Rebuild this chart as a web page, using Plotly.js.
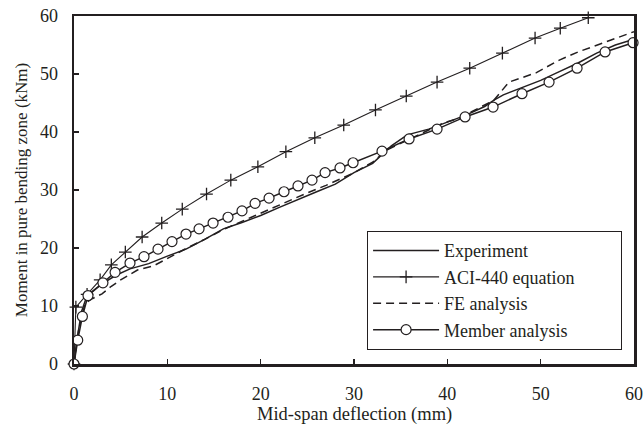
<!DOCTYPE html>
<html>
<head>
<meta charset="utf-8">
<script src="https://cdn.plot.ly/plotly-3.0.1.min.js"></script>
<style>html,body{margin:0;padding:0;background:#fff;}#chart{width:644px;height:428px;}</style>
</head>
<body>
<div id="chart"></div>
<script>
// Experiment
const expX = [0, 0.3, 0.8, 1.4, 3.0, 4.5, 6.0, 8.0, 10.0, 12.0, 14.0, 16.0, 18.0, 20.0, 22.0, 24.0, 26.0, 28.0, 30.0, 32.0, 34.0, 35.7, 38.0, 40.0, 42.0, 44.0, 45.0, 46.0, 48.0, 50.0, 52.0, 54.0, 56.0, 58.0, 60.0];
const expY = [0, 4.0, 9.0, 11.8, 13.8, 15.3, 16.4, 17.3, 18.6, 19.8, 21.5, 23.3, 24.4, 25.6, 27.0, 28.4, 29.7, 31.0, 33.0, 34.6, 37.6, 39.5, 40.5, 41.7, 42.9, 44.4, 45.5, 46.4, 47.6, 48.9, 50.4, 51.9, 53.6, 55.0, 56.0];
// ACI-440 equation
const aciX = [0, 0.2, 1.4, 2.8, 4.0, 5.5, 7.3, 9.4, 11.6, 14.2, 16.8, 19.7, 22.7, 25.8, 28.9, 32.3, 35.6, 38.9, 42.4, 45.9, 49.4, 52.1, 55.1];
const aciY = [0, 9.8, 12.0, 14.5, 17.1, 19.3, 21.9, 24.3, 26.7, 29.3, 31.7, 34.0, 36.6, 39.0, 41.2, 43.8, 46.2, 48.6, 51.0, 53.6, 56.2, 57.9, 59.7];
// FE analysis
const feX = [0, 0.5, 1.2, 2.0, 3.0, 4.0, 5.0, 6.8, 8.5, 10.0, 12.0, 14.0, 16.3, 19.0, 22.4, 25.0, 27.0, 29.8, 32.0, 33.5, 36.0, 39.5, 41.3, 43.0, 45.0, 46.6, 49.5, 52.0, 54.0, 56.6, 59.5, 60.0];
const feY = [0, 6.0, 10.5, 11.3, 12.1, 13.4, 14.5, 16.2, 16.9, 18.2, 19.9, 21.5, 23.4, 25.3, 27.7, 29.5, 30.8, 32.8, 34.8, 36.9, 38.8, 41.5, 42.4, 43.8, 45.5, 48.6, 50.2, 52.4, 53.8, 55.3, 57.1, 57.3];
// Member analysis
const memX = [0, 0.4, 0.9, 1.5, 3.1, 4.4, 6.0, 7.5, 9.0, 10.5, 12.0, 13.4, 14.9, 16.5, 18.0, 19.4, 20.9, 22.5, 24.0, 25.5, 26.9, 28.5, 29.9, 33.0, 35.9, 38.9, 41.9, 44.9, 48.0, 50.9, 53.9, 56.9, 59.9];
const memY = [0, 4.1, 8.2, 11.8, 14.0, 15.8, 17.4, 18.5, 19.8, 21.1, 22.4, 23.3, 24.3, 25.3, 26.4, 27.7, 28.6, 29.7, 30.7, 31.7, 33.0, 33.8, 34.7, 36.7, 38.8, 40.5, 42.6, 44.3, 46.6, 48.6, 51.0, 53.8, 55.4];

const xTicks = [0, 10, 20, 30, 40, 50, 60];
const yTicks = [0, 10, 20, 30, 40, 50, 60];
const seriesNames = ['Experiment', 'ACI-440 equation', 'FE analysis', 'Member analysis'];
const xTitle = 'Mid-span deflection (mm)';
const yTitle = 'Moment in pure bending zone (kNm)';

const FONT = 'Liberation Serif, Times New Roman, serif';
const INK = '#231f20';
const PAD = '\u00a0'.repeat(9);

const traces = [
  {x: expX, y: expY, name: seriesNames[0], mode: 'lines', cliponaxis: false,
   line: {color: INK, width: 1.5}},
  {x: aciX, y: aciY, name: seriesNames[1] + PAD, mode: 'lines+markers', cliponaxis: false,
   line: {color: INK, width: 1.1},
   marker: {symbol: 'cross-thin', size: 9, line: {color: INK, width: 1.3}}},
  {x: feX, y: feY, name: seriesNames[2], mode: 'lines', cliponaxis: false,
   line: {color: INK, width: 1.5, dash: '8px,5px'}},
  {x: memX, y: memY, name: seriesNames[3], mode: 'lines+markers', cliponaxis: false,
   line: {color: INK, width: 1.5},
   marker: {symbol: 'circle', size: 10, color: '#ffffff', line: {color: INK, width: 1.2}}}
];

const axisCommon = {
  showgrid: false, zeroline: false, showline: true, mirror: true,
  linecolor: INK, linewidth: 2.5, ticks: 'inside', ticklen: 5, tickwidth: 1.2, tickcolor: INK,
  tickfont: {family: FONT, size: 18, color: INK}
};

const layout = {
  width: 644, height: 428,
  margin: {l: 74, r: 10, t: 16, b: 64},
  paper_bgcolor: '#ffffff', plot_bgcolor: '#ffffff',
  font: {family: FONT, size: 18, color: INK},
  showlegend: true,
  legend: {x: 0.523, y: 0.382, xanchor: 'left', yanchor: 'top',
           bordercolor: INK, borderwidth: 1.2, bgcolor: '#ffffff',
           font: {family: FONT, size: 18, color: INK},
           itemwidth: 66, tracegroupgap: 0},
  xaxis: Object.assign({}, axisCommon, {
    range: [0, 60], tickvals: xTicks, ticktext: xTicks.map(String), ticklabelstandoff: 12
  }),
  yaxis: Object.assign({}, axisCommon, {
    range: [0, 60], tickvals: yTicks, ticktext: yTicks.map(String), ticklabelstandoff: 10,
    title: {text: yTitle, font: {family: FONT, size: 17, color: INK}, standoff: 8}
  }),
  annotations: [{
    text: xTitle, xref: 'paper', yref: 'paper', x: 0.5, y: 0,
    xanchor: 'center', yanchor: 'top', yshift: -39, showarrow: false, borderpad: 0,
    font: {family: FONT, size: 18.5, color: INK}
  }]
};

Plotly.newPlot('chart', traces, layout, {displayModeBar: false, staticPlot: true});
</script>
</body>
</html>
